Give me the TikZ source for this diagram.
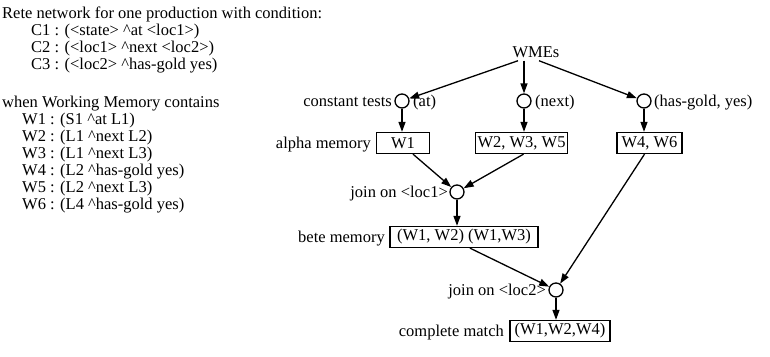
\documentclass[tikz,border=0pt]{standalone}
\usepackage{fontspec}
\setmainfont{Liberation Serif}
\usetikzlibrary{arrows.meta}
\newcommand{\crt}{\textasciicircum}
\begin{document}
\begin{tikzpicture}[x=1pt,y=-1pt,
  every node/.style={font=\fontsize{16.5}{17}\selectfont},
  txt/.style={inner sep=0pt},
  lt/.style={txt,anchor=base west},
  rt/.style={txt,anchor=base east},
  tnode/.style={draw,circle,line width=1.3pt,minimum size=14pt,inner sep=0pt},
  mem/.style={draw,line width=1.3pt,minimum height=21pt,inner sep=2pt},
  conn/.style={line width=1.3pt,-{Triangle[length=10pt,width=7pt]}}
]
\useasboundingbox (0,0) rectangle (770,356);
% left text
\node[lt] (title) at (2,18) {Rete network for one production with condition:};
\node[lt] (c1l) at (31,35) {C1 : (<state> \crt at <loc1>)};
\node[lt] (c2l) at (31,52) {C2 : (<loc1> \crt next <loc2>)};
\node[lt] (c3l) at (31,69) {C3 : (<loc2> \crt has-gold yes)};
\node[lt] (when) at (2,107) {when Working Memory contains};
\node[lt] (w1l) at (22,124) {W1 : (S1 \crt at L1)};
\node[lt] (w2l) at (22,141) {W2 : (L1 \crt next L2)};
\node[lt] (w3l) at (22,158) {W3 : (L1 \crt next L3)};
\node[lt] (w4l) at (22,175) {W4 : (L2 \crt has-gold yes)};
\node[lt] (w5l) at (22,192) {W5 : (L2 \crt next L3)};
\node[lt] (w6l) at (22,209) {W6 : (L4 \crt has-gold yes)};
% network
\node[txt] (wmes) at (536,52) {WMEs};
\node[tnode] (c1) at (402,101) {};
\node[tnode] (c2) at (524,101) {};
\node[tnode] (c3) at (644,101) {};
\node[rt] (ctl) at (392,106) {constant tests};
\node[lt] (atl) at (413,106) {(at)};
\node[lt] (nextl) at (535,106) {(next)};
\node[lt] (hgl) at (654,106) {(has-gold, yes)};
\node[mem,minimum width=53pt] (b1) at (403,143) {W1};
\node[mem,minimum width=91pt] (b2) at (521.5,143) {W2, W3, W5};
\node[mem,minimum width=65pt] (b3) at (649.5,143) {W4, W6};
\node[rt] (aml) at (371,148) {alpha memory};
\node[tnode] (j1) at (457,192) {};
\node[rt] (j1l) at (448,197) {join on <loc1>};
\node[mem,minimum width=148pt] (beta) at (464,237) {(W1, W2) (W1,W3)};
\node[rt] (bml) at (385,242) {bete memory};
\node[tnode] (j2) at (556,290) {};
\node[rt] (j2l) at (546,295) {join on <loc2>};
\node[mem,minimum width=100pt] (fin) at (560,331) {(W1,W2,W4)};
\node[rt] (cml) at (504,336) {complete match};
% connectors
\draw[conn] ([xshift=-18pt,yshift=-3pt]wmes.south) -- (c1);
\draw[conn] ([xshift=-12pt,yshift=-3pt]wmes.south) -- (c2);
\draw[conn] ([xshift=3pt,yshift=-3pt]wmes.south) -- (c3);
\draw[conn] (c1) -- (c1 |- b1.north);
\draw[conn] (c2) -- (c2 |- b2.north);
\draw[conn] (c3) -- (c3 |- b3.north);
\draw[conn] ([xshift=10pt]b1.south) -- (j1);
\draw[conn] ([xshift=2pt]b2.south) -- (j1);
\draw[conn] (j1) -- (j1 |- beta.north);
\draw[conn] ([xshift=6pt]beta.south) -- (j2);
\draw[conn] ([xshift=-5pt]b3.south) -- (j2);
\draw[conn] (j2) -- (j2 |- fin.north);
\end{tikzpicture}
\end{document}
